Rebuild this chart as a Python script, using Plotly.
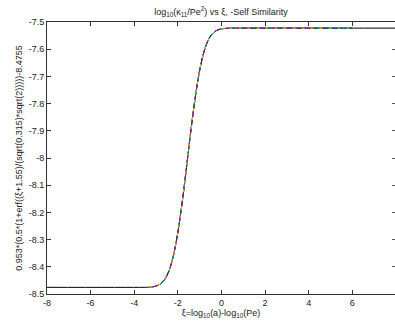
import plotly.graph_objects as go

# Fit curve values
XI_FIT = [-8.0, -3.6, -3.4, -3.2, -3.0, -2.8, -2.6, -2.4, -2.2, -2.0, -1.8, -1.6,
          -1.4, -1.2, -1.0, -0.8, -0.6, -0.4, -0.2, 0.0, 0.3, 0.6, 1.0, 8.0]
Y_FIT = [-8.4755, -8.4755, -8.4754, -8.4739, -8.4708, -8.4631, -8.4462, -8.4137,
         -8.3579, -8.2741, -8.1629, -8.0328, -7.8986, -7.7764, -7.6783, -7.6089,
         -7.5656, -7.5418, -7.5302, -7.5252, -7.5230, -7.5226, -7.5225, -7.5225]

# Data series (overlapping)
XI_DATA = [-3.3, -3.2, -3.1, -3.0, -2.8, -2.6, -2.4, -2.2, -2.0, -1.8, -1.6, -1.4,
           -1.2, -1.0, -0.8, -0.6, -0.4, -0.2, 0.0, 0.3, 0.6, 1.0, 2.0, 3.0, 4.0, 5.0, 6.0]
Y_DATA = [-8.4750, -8.4740, -8.4728, -8.4708, -8.4631, -8.4462, -8.4137, -8.3579,
          -8.2741, -8.1629, -8.0328, -7.8986, -7.7764, -7.6783, -7.6089, -7.5656,
          -7.5418, -7.5302, -7.5252, -7.5230, -7.5226, -7.5225, -7.5225, -7.5225,
          -7.5225, -7.5225, -7.5225]
SERIES_NAMES = ["s1", "s2", "s3", "s4", "s5", "s6"]
SERIES_START = [-3.2, -3.3, -3.0, -3.1, -3.2, -3.3]
SERIES_END = [6.0, 6.0, 5.0, 6.0, 4.0, 6.0]
SERIES_COLORS = ["#0000ff", "#008000", "#ff0000", "#00bfbf", "#bf00bf", "#e0e000"]
SERIES_DASH = ["solid", "6px,6px", "4px,8px", "3px,9px", "5px,10px", "3px,6px"]

X_TICKS = [-8, -6, -4, -2, 0, 2, 4, 6]
Y_TICKS = [-7.5, -7.6, -7.7, -7.8, -7.9, -8.0, -8.1, -8.2, -8.3, -8.4, -8.5]
Y_TICKTEXT = ["-7.5", "-7.6", "-7.7", "-7.8", "-7.9", "-8", "-8.1", "-8.2", "-8.3", "-8.4", "-8.5"]

fig = go.Figure()
fig.add_trace(go.Scatter(x=XI_FIT, y=Y_FIT, mode="lines", line=dict(color="#000000", width=1,
                                                                      shape="spline", smoothing=0.8),
                         showlegend=False, hoverinfo="skip"))
for name, s, e, c, d in zip(SERIES_NAMES, SERIES_START, SERIES_END, SERIES_COLORS, SERIES_DASH):
    xs = [x for x in XI_DATA if s - 1e-9 <= x <= e + 1e-9]
    ys = [y for x, y in zip(XI_DATA, Y_DATA) if s - 1e-9 <= x <= e + 1e-9]
    fig.add_trace(go.Scatter(x=xs, y=ys, mode="lines", name=name,
                             line=dict(color=c, width=1, dash=d, shape="spline", smoothing=0.8),
                             showlegend=False))
# invisible trace for right-side ticks
fig.add_trace(go.Scatter(x=[0], y=[-8], yaxis="y2", mode="markers", marker=dict(opacity=0),
                         showlegend=False, hoverinfo="skip"))

font = dict(family="Liberation Sans, Arial, sans-serif", size=9, color="#222222")
fig.update_layout(
    width=395, height=325,
    margin=dict(l=47, r=0, t=22, b=31),
    paper_bgcolor="white", plot_bgcolor="white",
    font=font,
    title=dict(text="log<sub>10</sub>(κ<sub>11</sub>/Pe<sup>2</sup>) vs ξ, -Self Similarity",
               x=221 / 395, xanchor="center", y=1 - 12 / 325, yanchor="middle",
               font=dict(family="Liberation Sans, Arial, sans-serif", size=9, color="#222222")),
    xaxis=dict(range=[-8, 7.96], tickvals=X_TICKS, ticktext=[str(v) for v in X_TICKS],
               ticks="inside", ticklen=4, tickcolor="#333333", showline=True, linecolor="#333333",
               linewidth=1, mirror="ticks", showgrid=False, zeroline=False,
               title=dict(text="ξ=log<sub>10</sub>(a)-log<sub>10</sub>(Pe)", standoff=0,
                          font=dict(size=9)),
               tickfont=dict(size=9)),
    yaxis=dict(range=[-8.5, -7.5], tickvals=Y_TICKS, ticktext=Y_TICKTEXT,
               ticks="inside", ticklen=4, tickcolor="#333333", showline=True, linecolor="#333333",
               linewidth=1, mirror=False, showgrid=False, zeroline=False,
               title=dict(text="0.953*(0.5*(1+erf((ξ+1.55)/(sqrt(0.315)*sqrt(2)))))-8.4755",
                          standoff=4, font=dict(size=9)),
               tickfont=dict(size=9)),
    yaxis2=dict(range=[-8.5, -7.5], tickvals=Y_TICKS, overlaying="y", side="right",
                ticks="inside", ticklen=3, tickcolor="#555555", showticklabels=False,
                showline=False, showgrid=False, zeroline=False),
)
fig.write_html("out.html", config={"displayModeBar": False},
               post_script="document.body.style.margin='0';document.body.style.overflow='hidden';")
